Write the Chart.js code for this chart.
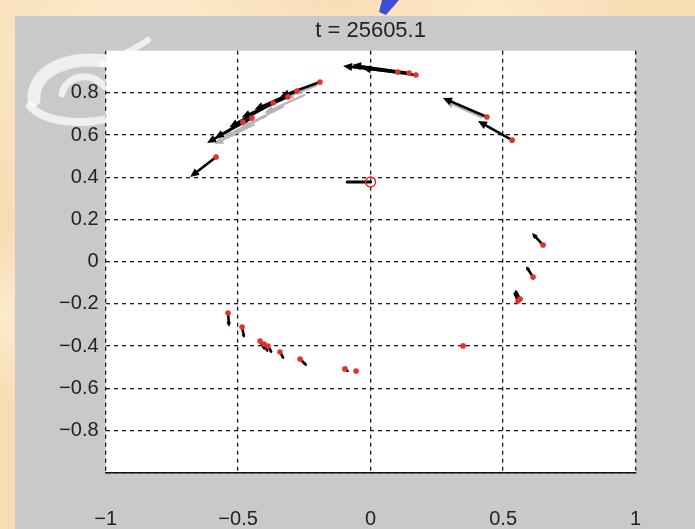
<!DOCTYPE html>
<html>
<head>
<meta charset="utf-8">
<title>t = 25605.1</title>
<script src="https://cdn.jsdelivr.net/npm/chart.js@4.4.0/dist/chart.umd.min.js"></script>
<style>
    html, body {
        margin: 0;
        padding: 0;
        width: 695px;
        height: 529px;
        overflow: hidden;
    }
    body {
        position: relative;
        background-color: #f8dcb3;
        background-image:
            radial-gradient(ellipse at 20% 10%, rgba(255, 240, 215, 0.8) 0%, rgba(255, 240, 215, 0) 30%),
            radial-gradient(ellipse at 70% 5%, rgba(255, 238, 210, 0.7) 0%, rgba(255, 238, 210, 0) 25%),
            radial-gradient(ellipse at 2% 60%, rgba(255, 240, 215, 0.7) 0%, rgba(255, 240, 215, 0) 20%);
    }
    #panel {
        position: absolute;
        left: 15px;
        top: 16px;
        right: 0;
        bottom: 0;
        background: #c9c9cb;
    }
    #chart {
        position: absolute;
        left: 0;
        top: 0;
    }
    #deco {
        position: absolute;
        left: 0;
        top: 0;
        pointer-events: none;
    }
</style>
</head>
<body>
<div id="panel"></div>
<canvas id="chart" width="695" height="529"></canvas>
<svg id="deco" width="695" height="529">
    <polygon points="382,0 399,0 386,15 379,12" fill="#3b4fd6"/>
    <g fill="none" stroke="#ffffff" stroke-opacity="0.7" stroke-linecap="round">
        <path d="M 34 100 C 32 68, 76 52, 120 64" stroke-width="13"/>
        <path d="M 30 106 C 46 124, 94 128, 124 112" stroke-width="8"/>
        <path d="M 102 64 C 116 58, 134 50, 148 40" stroke-width="6"/>
        <path d="M 62 94 C 66 76, 90 70, 104 86" stroke-width="7"/>
    </g>
</svg>
<script>
// red markers (agent positions)
const agentX = [0.103, 0.145, 0.171, 0.439, 0.534,
    -0.191, -0.278, -0.312, -0.368, -0.448, -0.482, -0.583,
    0.651, 0.613, 0.564, 0.556,
    -0.538, -0.485, -0.417, -0.402, -0.387, -0.342, -0.266, -0.097, -0.055,
    0.349];
const agentY = [0.899, 0.894, 0.885, 0.686, 0.576,
    0.852, 0.809, 0.781, 0.752, 0.681, 0.662, 0.496,
    0.079, -0.073, -0.177, -0.186,
    -0.243, -0.310, -0.376, -0.390, -0.400, -0.428, -0.461, -0.508, -0.518,
    -0.399];
// quiver components (arrow displacement in data units)
const arrowU = [-0.207, -0.215, -0.204, -0.166, -0.129,
    -0.150, -0.160, -0.175, -0.165, -0.140, -0.135, -0.098,
    -0.042, -0.026, -0.019, -0.015,
    0.004, 0.008, 0.019, 0.015, 0.015, 0.015, 0.026, 0.015, 0.011,
    -0.008];
const arrowV = [0.028, 0.038, 0.033, 0.090, 0.091,
    -0.070, -0.088, -0.098, -0.115, -0.095, -0.100, -0.095,
    0.057, 0.052, 0.043, 0.043,
    -0.066, -0.052, -0.043, -0.038, -0.033, -0.033, -0.033, -0.014, -0.005,
    0.008];
// faint arrows left over from the previous frame
const ghostX = [-0.440, -0.395, -0.330, -0.250, -0.205, 0.420];
const ghostY = [0.650, 0.690, 0.735, 0.790, 0.835, 0.684];
const ghostU = [-0.150, -0.160, -0.160, -0.150, -0.120, -0.140];
const ghostV = [-0.092, -0.098, -0.100, -0.085, -0.060, 0.078];
// open circle (leader) and its heading line
const leaderX = [0];
const leaderY = [0.378];
const leaderU = [-0.088];
const leaderV = [0];

const xTicks = [-1, -0.5, 0, 0.5, 1];
const yTicks = [-1, -0.8, -0.6, -0.4, -0.2, 0, 0.2, 0.4, 0.6, 0.8, 1];
const titleText = 't = 25605.1';

function fmt(v) {
    var r = Math.round(v * 10) / 10;
    if (r === 0) return '0';
    return (r < 0 ? '\u2212' : '') + String(Math.abs(r));
}

document.addEventListener("DOMContentLoaded", function() {
    var plotBg = {
        id: 'plotBg',
        beforeDraw: function(chart) {
            var a = chart.chartArea;
            var c = chart.ctx;
            c.save();
            c.fillStyle = '#ffffff';
            c.fillRect(a.left, a.top, a.right - a.left, a.bottom - a.top);
            c.restore();
        },
        afterDraw: function(chart) {
            // title centred over the axes, like MATLAB
            var a = chart.chartArea;
            var c = chart.ctx;
            c.save();
            c.fillStyle = '#222222';
            c.font = '22px "Liberation Sans"';
            c.textAlign = 'center';
            c.textBaseline = 'middle';
            c.fillText(titleText, (a.left + a.right) / 2, 31);
            c.restore();
        }
    };

    function drawArrow(c, x0, y0, x1, y1, width) {
        var dx = x1 - x0, dy = y1 - y0;
        var len = Math.sqrt(dx * dx + dy * dy);
        if (len < 0.5) return;
        var ux = dx / len, uy = dy / len;
        var hl = Math.min(9, Math.max(3, len * 0.35));
        var hw = hl * 0.45;
        c.lineWidth = width;
        c.beginPath();
        c.moveTo(x0, y0);
        c.lineTo(x1 - ux * hl * 0.6, y1 - uy * hl * 0.6);
        c.stroke();
        c.beginPath();
        c.moveTo(x1, y1);
        c.lineTo(x1 - ux * hl - uy * hw, y1 - uy * hl + ux * hw);
        c.lineTo(x1 - ux * hl + uy * hw, y1 - uy * hl - ux * hw);
        c.closePath();
        c.fill();
    }

    var quiver = {
        id: 'quiver',
        beforeDatasetsDraw: function(chart) {
            var xs = chart.scales.x, ys = chart.scales.y;
            var c = chart.ctx;
            var i;
            c.save();
            c.lineCap = 'round';
            c.strokeStyle = '#b4b4b4';
            c.fillStyle = '#b4b4b4';
            for (i = 0; i < ghostX.length; i++) {
                drawArrow(c,
                    xs.getPixelForValue(ghostX[i]), ys.getPixelForValue(ghostY[i]),
                    xs.getPixelForValue(ghostX[i] + ghostU[i]), ys.getPixelForValue(ghostY[i] + ghostV[i]),
                    2.2);
            }
            c.strokeStyle = '#000000';
            c.fillStyle = '#000000';
            for (i = 0; i < agentX.length; i++) {
                drawArrow(c,
                    xs.getPixelForValue(agentX[i]), ys.getPixelForValue(agentY[i]),
                    xs.getPixelForValue(agentX[i] + arrowU[i]), ys.getPixelForValue(agentY[i] + arrowV[i]),
                    2.6);
            }
            c.lineWidth = 3;
            for (i = 0; i < leaderX.length; i++) {
                c.beginPath();
                c.moveTo(xs.getPixelForValue(leaderX[i]), ys.getPixelForValue(leaderY[i]));
                c.lineTo(xs.getPixelForValue(leaderX[i] + leaderU[i]), ys.getPixelForValue(leaderY[i] + leaderV[i]));
                c.stroke();
            }
            c.restore();
        }
    };

    var ctx = document.getElementById('chart').getContext('2d');
    var chart = new Chart(ctx, {
        type: 'scatter',
        data: {
            datasets: [{
                label: 'agents',
                data: agentX.map(function(x, i) { return { x: x, y: agentY[i] }; }),
                pointRadius: 2.8,
                pointBackgroundColor: '#e8302a',
                pointBorderColor: '#e8302a',
                pointBorderWidth: 0
            }, {
                label: 'leader',
                data: leaderX.map(function(x, i) { return { x: x, y: leaderY[i] }; }),
                pointRadius: 5,
                pointBackgroundColor: 'rgba(0,0,0,0)',
                pointBorderColor: '#e8302a',
                pointBorderWidth: 1.5
            }]
        },
        options: {
            responsive: false,
            animation: false,
            layout: {
                padding: { left: 0, right: 59.4, top: 50.7, bottom: 0 }
            },
            plugins: {
                legend: { display: false },
                tooltip: { enabled: false },
                title: { display: false }
            },
            scales: {
                x: {
                    type: 'linear',
                    min: -1,
                    max: 1,
                    afterBuildTicks: function(scale) {
                        scale.ticks = xTicks.map(function(v) { return { value: v }; });
                    },
                    afterFit: function(scale) { scale.height = 56.3; },
                    ticks: {
                        autoSkip: false,
                        maxRotation: 0,
                        padding: 35,
                        color: '#222222',
                        font: { family: 'Liberation Sans', size: 20 },
                        callback: function(v) { return fmt(v); }
                    },
                    grid: {
                        color: '#1a1a1a',
                        lineWidth: 1.3,
                        drawTicks: false
                    },
                    // solid bottom axis line, dashed grid lines
                    border: { display: true, color: '#111111', width: 1.6, dash: [4, 4] }
                },
                y: {
                    type: 'linear',
                    min: -1,
                    max: 1,
                    afterBuildTicks: function(scale) {
                        scale.ticks = yTicks.map(function(v) { return { value: v }; });
                    },
                    afterFit: function(scale) { scale.width = 105.6; },
                    ticks: {
                        autoSkip: false,
                        padding: 7,
                        color: '#222222',
                        font: { family: 'Liberation Sans', size: 20 },
                        callback: function(v) {
                            if (Math.abs(v) > 0.95) return '';
                            return fmt(v);
                        }
                    },
                    grid: {
                        color: function(c) {
                            return c.tick && c.tick.value > 0.95 ? 'rgba(0,0,0,0)' : '#1a1a1a';
                        },
                        lineWidth: 1.3,
                        drawTicks: false
                    },
                    border: { display: false, dash: [4, 4] }
                }
            }
        },
        plugins: [plotBg, quiver]
    });
});
</script>
</body>
</html>
